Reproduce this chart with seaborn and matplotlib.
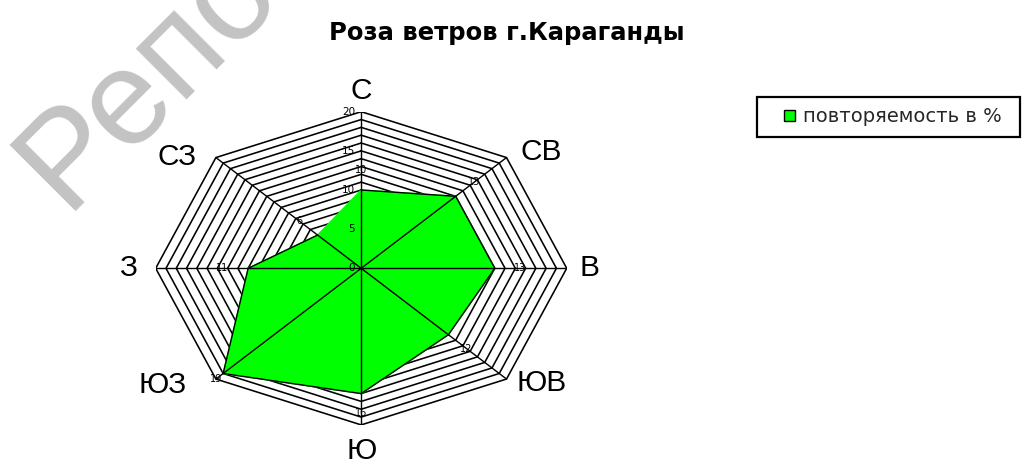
import numpy as np
import pandas as pd
import matplotlib
matplotlib.use("Agg")
import matplotlib.pyplot as plt
from matplotlib.patches import Patch, Rectangle
import seaborn as sns

# Wind rose data: direction names and frequency, %
directions = ["С", "СВ", "В", "ЮВ", "Ю", "ЮЗ", "З", "СЗ"]
frequency = [10, 13, 13, 12, 16, 19, 11, 6]
axis_ticks = [0, 5, 10, 15, 20]
title = "Роза ветров г.Караганды"
series_name = "повторяемость в %"
watermark = "Репозиторий БГПУ"

R_MAX = 20
sns.set_theme(style="white")
plt.rcParams["font.family"] = ["DejaVu Sans"]

fig = plt.figure(figsize=(10.25, 4.65), dpi=100)
W, H = 1025, 465
ax = fig.add_axes([155.7 / W, (H - 424.9) / H, 411 / W, 313.2 / H])
ax.set_xlim(-R_MAX, R_MAX)
ax.set_ylim(-R_MAX, R_MAX)
ax.set_axis_off()
ax.patch.set_alpha(0)

theta = np.deg2rad(np.arange(len(directions)) * 45.0)
sin_t, cos_t = np.sin(theta), np.cos(theta)

# concentric octagonal grid, one ring per percent
ring_rows = []
for r in range(1, R_MAX + 1):
    for k in list(range(len(directions))) + [0]:
        ring_rows.append({"ring": r, "x": r * sin_t[k], "y": r * cos_t[k]})
rings = pd.DataFrame(ring_rows)
sns.lineplot(data=rings, x="x", y="y", units="ring", estimator=None,
             sort=False, color="black", lw=1.15, ax=ax, zorder=1, legend=False)

# frequency polygon
df = pd.DataFrame({"dir": directions, "val": frequency})
df["x"] = df["val"] * sin_t
df["y"] = df["val"] * cos_t
closed = pd.concat([df, df.iloc[[0]]], ignore_index=True)
ax.fill(closed["x"], closed["y"], color="#00ff00", zorder=2)
sns.lineplot(data=closed.reset_index(), x="x", y="y", sort=False,
             color="black", lw=1.0, ax=ax, zorder=3)

# spokes
for k in range(len(directions)):
    ax.plot([0, R_MAX * sin_t[k]], [0, R_MAX * cos_t[k]],
            color="black", lw=1.0, zorder=4)

# value axis labels along the north spoke
for t in axis_ticks:
    ax.annotate(str(t), xy=(0, t), xytext=(-6, 0), textcoords="offset pixels",
                ha="right", va="center", fontsize=7.5, color="black", zorder=5)

# data labels
for k, v in enumerate(frequency):
    rr = min(v + 2.5, R_MAX)
    ax.text(rr * sin_t[k], rr * cos_t[k], str(v), ha="center", va="center",
            fontsize=7, color="black", zorder=5)

# direction names
name_offsets = [(0, 21), (35, 6), (23, 0), (35, -4),
                (0, -26), (-53, -6), (-28, 0), (-39, 1)]
for k, name in enumerate(directions):
    ax.annotate(name, xy=(R_MAX * sin_t[k], R_MAX * cos_t[k]),
                xytext=name_offsets[k], textcoords="offset pixels",
                ha="center", va="center", fontsize=21.5,
                family="Liberation Sans", color="black", annotation_clip=False)

fig.text(507 / W, 1 - 33 / H, title, ha="center", va="center",
         fontsize=17.5, fontweight="bold", color="black")

# legend: frame drawn as a box, entry placed inside it
fig.patches.append(Rectangle((757 / W, 1 - 137 / H), 263 / W, 40 / H,
                             transform=fig.transFigure, facecolor="white",
                             edgecolor="black", lw=1.6, zorder=1))
handle = Patch(facecolor="#00ff00", edgecolor="black", lw=1.0, label=series_name)
leg = fig.legend(handles=[handle], loc="center left",
                 bbox_to_anchor=(784 / W, 1 - 117 / H), frameon=False,
                 fontsize=14, handlelength=0.55, handleheight=0.55,
                 handletextpad=0.45, borderpad=0, borderaxespad=0)
leg.set_zorder(2)

fig.text(68 / W, 1 - 218 / H, watermark, rotation=45, rotation_mode="anchor",
         ha="left", va="baseline", fontsize=97, color="#c3c3c3",
         family="Liberation Sans", zorder=0)

fig.savefig("out.png", dpi=100, facecolor="white")
